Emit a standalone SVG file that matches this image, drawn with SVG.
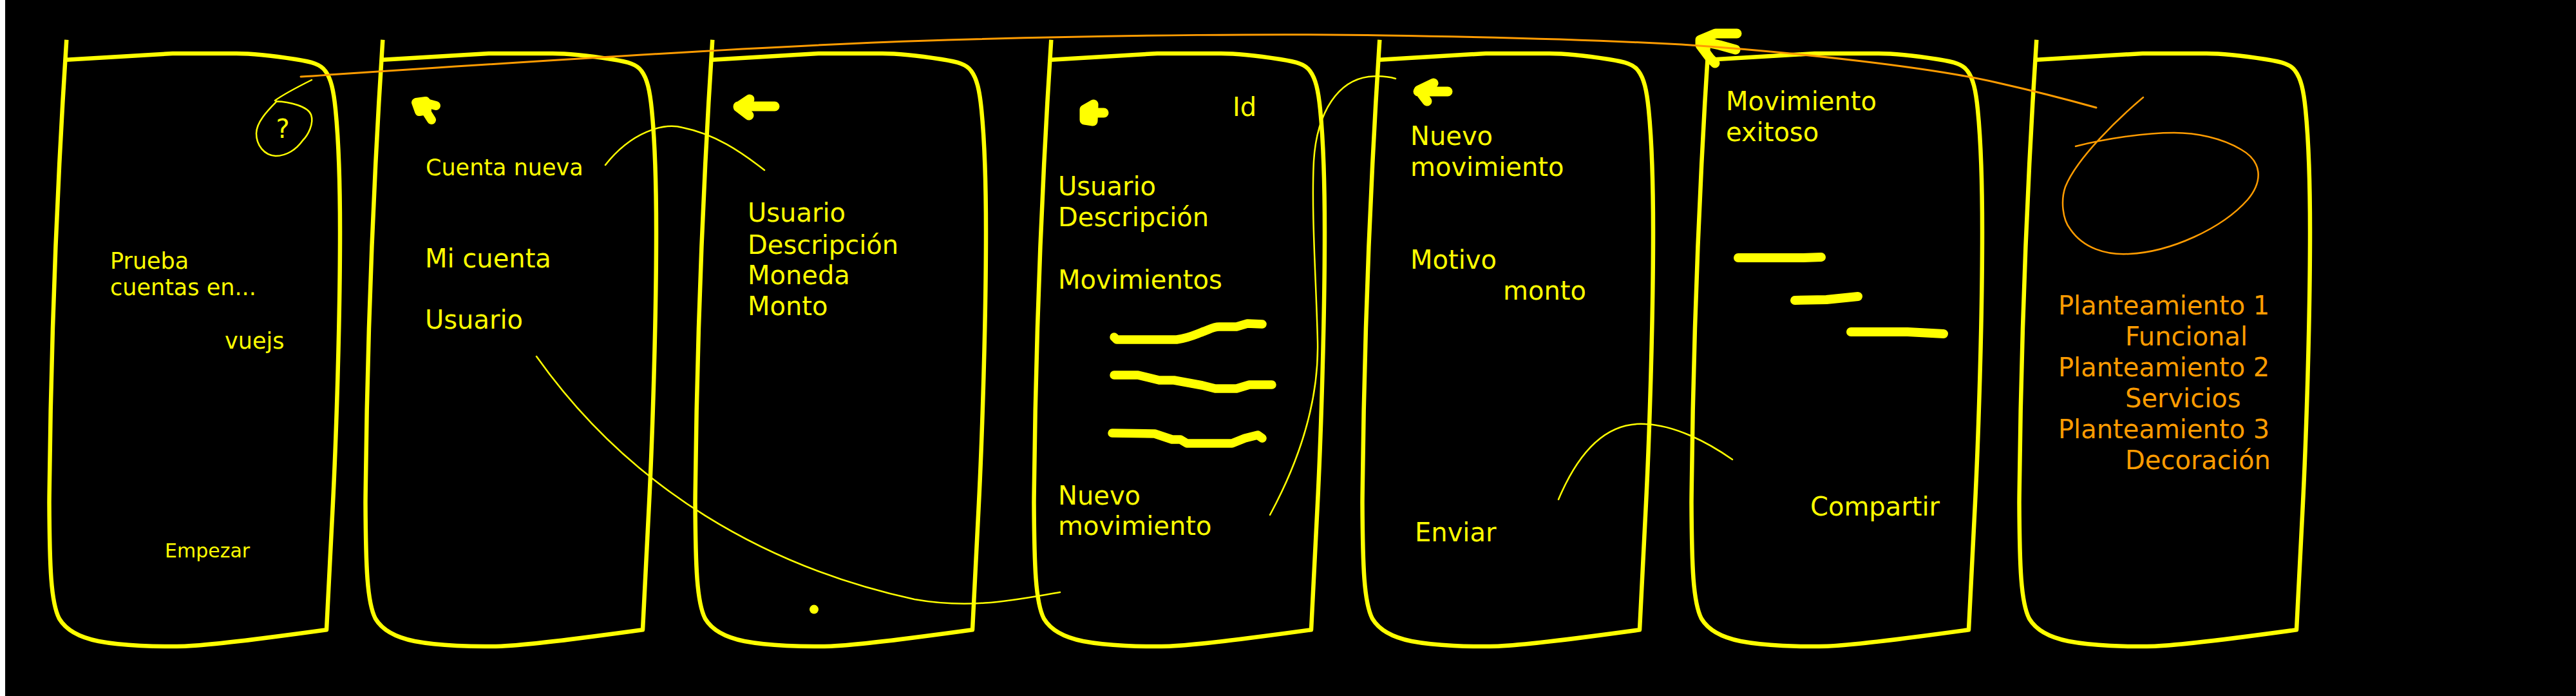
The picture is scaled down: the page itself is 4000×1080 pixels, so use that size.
<svg xmlns="http://www.w3.org/2000/svg" width="4000" height="1080" viewBox="0 0 4000 1080">
<defs>
<style>
.ph{fill:none;stroke:#ffff00;stroke-width:6.5;stroke-linejoin:round;stroke-linecap:butt}
.t{font-family:"DejaVu Sans","Liberation Sans",sans-serif;fill:#ffff00;font-size:40px}
.s35{font-size:35px}
.s30{font-size:30px}
.o{fill:#ff9c00}
.mk{fill:none;stroke:#ffff00;stroke-width:15;stroke-linecap:round;stroke-linejoin:round}
.sc{fill:none;stroke:#ffff00;stroke-width:13.5;stroke-linecap:round;stroke-linejoin:round}
.thin{fill:none;stroke:#ffff00;stroke-width:2.5;stroke-linecap:round}
.othin{fill:none;stroke:#ff9c00;stroke-width:3;stroke-linecap:round}
</style>
<path id="phone" class="ph" d="M103.3,61.7 Q80,420 76.5,780 C77,880 79,935 92,960 C104,980 128,990 153,995 C190,1002 245,1004 287,1002.7 C330,1001 400,992 507,977.3 L517,780 C522,680 528,500 528,360 C528,280 526,220 521,170 C518,140 514,122 505,110 C498,100 485,96 459,92 C420,86 390,83 367,83 L268,83 L103.3,92.7"/>
</defs>
<rect width="4000" height="1080" fill="#ffffff"/>
<rect x="8" y="0" width="3992" height="1080" fill="#000000"/>

<g id="phone1">
<use href="#phone"/>
<text class="t" x="439" y="214" text-anchor="middle">?</text>
<text class="t s35" x="171" y="417">Prueba</text>
<text class="t s35" x="171" y="458">cuentas en...</text>
<text class="t s35" x="349" y="541">vuejs</text>
<text class="t s30" x="256" y="865">Empezar</text>
</g>

<g id="phone2">
<use href="#phone" transform="translate(491,0)"/>
<path class="mk" style="stroke-width:14;fill:#ffff00" d="M646,159 L661,157 L663,171 L651,173 Z"/>
<path class="mk" style="stroke-width:14" d="M662,160 L677,164 M661,172 L670,186"/>
<text class="t s35" x="661" y="272">Cuenta nueva</text>
<text class="t" x="660" y="415">Mi cuenta</text>
<text class="t" x="660" y="510">Usuario</text>
</g>

<g id="phone3">
<use href="#phone" transform="translate(1003,0)"/>
<path class="mk" d="M1203,165 L1146,165 M1164,154 L1146,166 L1163,179"/>
<text class="t" x="1161" y="344">Usuario</text>
<text class="t" x="1161" y="394">Descripción</text>
<text class="t" x="1161" y="441">Moneda</text>
<text class="t" x="1161" y="489">Monto</text>
<circle cx="1264" cy="945.6" r="7" fill="#ffff00"/>
</g>

<g id="phone4">
<use href="#phone" transform="translate(1529,0)"/>
<path class="mk" style="fill:#ffff00" d="M1684,170 L1698,162 L1697,188 L1684,186 Z"/>
<path class="mk" d="M1714,175 L1690,175"/>
<text class="t" x="1914" y="180">Id</text>
<text class="t" x="1643" y="303">Usuario</text>
<text class="t" x="1643" y="351">Descripción</text>
<text class="t" x="1643" y="448">Movimientos</text>
<path class="sc" d="M1730,523 L1734,527 L1827,527 C1848,524 1858,518 1870,514 C1880,510 1885,507 1893,507 L1920,507 L1937,502 L1960,503"/>
<path class="sc" d="M1730,582 L1767,582 L1800,590 L1823,590 L1867,598 L1887,603 L1920,603 L1940,597 L1975,597"/>
<path class="sc" d="M1727,672 L1793,673 L1820,682 L1833,682 L1843,688 L1913,688 L1933,680 L1953,675 L1960,680"/>
<text class="t" x="1643" y="783">Nuevo</text>
<text class="t" x="1643" y="830">movimiento</text>
</g>

<g id="phone5">
<use href="#phone" transform="translate(2039,0)"/>
<path class="mk" d="M2248,142 L2202,142 M2226,129 L2203,140 L2216,157"/>
<text class="t" x="2190" y="225">Nuevo</text>
<text class="t" x="2190" y="273">movimiento</text>
<text class="t" x="2190" y="417">Motivo</text>
<text class="t" x="2334" y="465">monto</text>
<text class="t" x="2197" y="840">Enviar</text>
</g>

<g id="phone6">
<use href="#phone" transform="translate(2550,0)"/>
<path class="mk" d="M2697,52 L2664,52 L2640,62 L2640,70 L2655,90 L2663,98 M2642,64 L2670,70 L2695,77"/>
<text class="t" x="2680" y="171">Movimiento</text>
<text class="t" x="2680" y="219">exitoso</text>
<path class="mk" style="stroke-width:14" d="M2699,400 L2800,400 L2828,399"/>
<path class="mk" style="stroke-width:14" d="M2787,466 L2836,465 L2885,460"/>
<path class="mk" style="stroke-width:14" d="M2874,515 L2962,515 L3018,518"/>
<text class="t" x="2811" y="800">Compartir</text>
</g>

<g id="phone7">
<use href="#phone" transform="translate(3059,0)"/>
<path class="othin" style="stroke-width:2.5" d="M3328,151 C3290,183 3225,245 3207,290 C3200,310 3202,340 3215,356 C3235,385 3270,396 3306,394 C3370,391 3450,355 3490,310 C3515,280 3512,250 3480,232 C3450,214 3410,206 3376,206 C3330,206 3270,215 3223,227"/>
<text class="t o" x="3196" y="488">Planteamiento 1</text>
<text class="t o" x="3300" y="536">Funcional</text>
<text class="t o" x="3196" y="584">Planteamiento 2</text>
<text class="t o" x="3300" y="632">Servicios</text>
<text class="t o" x="3196" y="680">Planteamiento 3</text>
<text class="t o" x="3300" y="728">Decoración</text>
</g>

<g id="connectors">
<path class="thin" d="M484,124 C470,131 442,145 427,156"/>
<path class="thin" d="M428.6,157.3 C450,158 478,165 483,178 C488,192 478,210 470,218 C460,232 445,242 428,242 C410,241 398,225 398,207 C398,190 415,172 428.6,158.3"/>
<path class="thin" d="M940,256 C980,205 1030,190 1060,198 C1110,208 1150,235 1187,264"/>
<path class="thin" d="M833,553 C980,760 1190,880 1420,930 C1510,946 1580,930 1646,919"/>
<path class="thin" d="M1972,799 C2020,710 2048,620 2046,530 C2044,440 2036,330 2040,250 C2045,170 2080,125 2125,119 C2145,117 2160,120 2167,122"/>
<path class="thin" d="M2420,775 C2460,680 2510,655 2555,658 C2600,660 2650,685 2690,713"/>
<path class="othin" d="M467,119 C800,97 1200,70 1471,62 C1750,54 2000,52 2150,55 C2350,58 2500,63 2611,69 C2800,82 3000,105 3100,128 C3180,146 3230,160 3255,167"/>
</g>
</svg>
